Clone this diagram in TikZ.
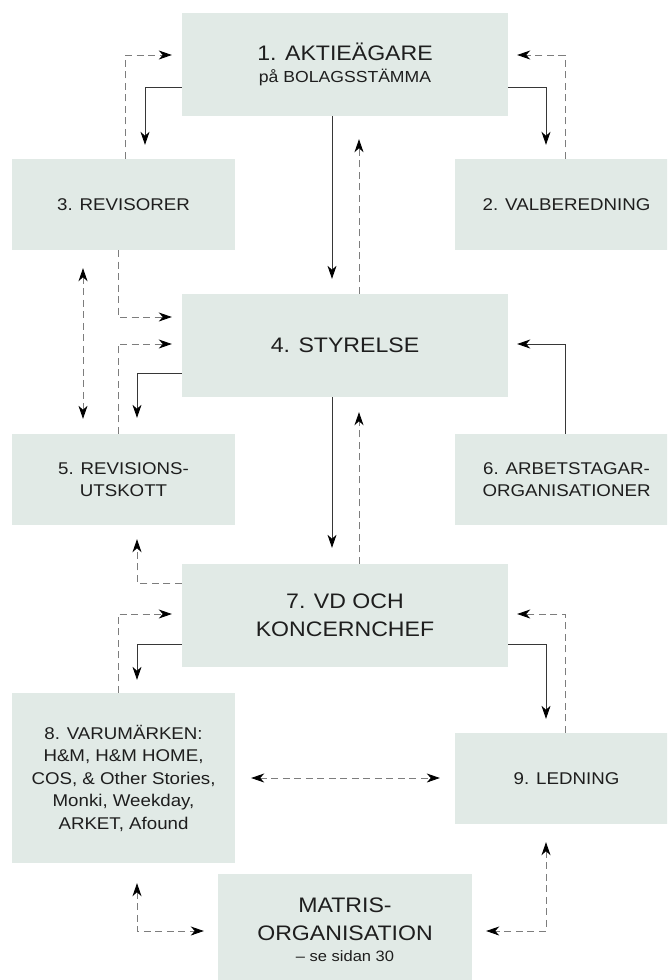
\documentclass[tikz,border=0pt]{standalone}
\usepackage{fontspec}
\setmainfont{Liberation Sans}[FakeStretch=1.1]
\usetikzlibrary{arrows.meta,calc}

\definecolor{boxgreen}{RGB}{225,234,230}
\definecolor{textgray}{RGB}{30,30,30}
\definecolor{dashgray}{RGB}{125,125,125}
\definecolor{linegray}{RGB}{55,55,55}

\begin{document}
\begin{tikzpicture}[x=1pt, y=-1pt,
    box/.style={fill=boxgreen, text=textgray, inner sep=0pt, align=center,
      minimum width=223pt, minimum height=91pt,
      font=\fontsize{17}{22.5}\selectfont},
    midbox/.style={box, minimum width=326pt, minimum height=103pt,
      font=\fontsize{21}{28}\selectfont},
    solidarrow/.style={draw=linegray, line width=0.8pt,
      -{Stealth[length=13pt, width=9pt, inset=4pt, black]}},
    dasharrow/.style={solidarrow, draw=dashgray, dash pattern=on 7pt off 4.5pt},
    bothdash/.style={dasharrow,
      {Stealth[length=13pt, width=9pt, inset=4pt, black]}-{Stealth[length=13pt, width=9pt, inset=4pt, black]}}]

    \useasboundingbox (0, 0) rectangle (667, 980);
    \clip (0, 0) rectangle (667, 980);

    % owners and the two bodies beside them
    \node [midbox] (aktie) at (345, 64.5) {1. AKTIEÄGARE\\[-6pt]
      {\fontsize{16}{20}\selectfont på BOLAGSSTÄMMA}};
    \node [box] (revis) at (123.5, 204.5) {3. REVISORER};
    \node [box] (valb)  at (566.5, 204.5) {2. VALBEREDNING};

    % board
    \node [midbox] (styr) at (345, 345.5) {4. STYRELSE};
    \node [box] (revut) at (123.5, 479.5) {5. REVISIONS-\\UTSKOTT};
    \node [box] (arbet) at (566.5, 479.5) {6. ARBETSTAGAR-\\ORGANISATIONER};

    % management
    \node [midbox] (vd) at (345, 615.5) {7. VD OCH\\KONCERNCHEF};
    \node [box, minimum height=170pt] (varum) at (123.5, 778)
      {8. VARUMÄRKEN:\\H\&M, H\&M HOME,\\COS, \& Other Stories,\\Monki, Weekday,\\ARKET, Afound};
    \node [box] (ledn) at (566.5, 778.5) {9. LEDNING};
    \node [midbox, minimum width=254pt, minimum height=112pt] (matris) at (345, 930)
      {MATRIS-\\ORGANISATION\\[-7pt]{\fontsize{15}{18}\selectfont -- se sidan 30}};

    % level 1
    \draw [solidarrow, shorten >=14pt] ([yshift=-22.5pt]aktie.west) -| ([xshift=21.5pt]revis.north);
    \draw [dasharrow, shorten >=10pt] ([xshift=2pt]revis.north) |- ([yshift=9.5pt]aktie.west);
    \draw [solidarrow, shorten >=14pt] ([yshift=-22.5pt]aktie.east) -| ([xshift=-20.5pt]valb.north);
    \draw [dasharrow, shorten >=9pt] ([xshift=-1.5pt]valb.north) |- ([yshift=9.5pt]aktie.east);
    \draw [solidarrow, shorten >=15pt] ([xshift=-13pt]aktie.south) -- ([xshift=-13pt]styr.north);
    \draw [dasharrow, shorten >=23pt] ([xshift=14pt]styr.north) -- ([xshift=14pt]aktie.south);

    % level 2
    \draw [dasharrow, shorten >=10pt] ([xshift=-5.5pt]revis.south) |- ([yshift=28.5pt]styr.west);
    \draw [dasharrow, shorten >=10pt] ([xshift=-5.5pt]revut.north) |- ([yshift=1.5pt]styr.west);
    \draw [solidarrow, shorten >=16pt] ([yshift=-27.5pt]styr.west) -| ([xshift=13.5pt]revut.north);
    \draw [bothdash, shorten <=18pt, shorten >=15pt] ([xshift=-40.5pt]revis.south) -- ([xshift=-40.5pt]revut.north);
    \draw [solidarrow, shorten >=9pt] ([xshift=-1.5pt]arbet.north) |- ([yshift=1.5pt]styr.east);
    \draw [solidarrow, shorten >=16pt] ([xshift=-13pt]styr.south) -- ([xshift=-13pt]vd.north);
    \draw [dasharrow, shorten >=15pt] ([xshift=14pt]vd.north) -- ([xshift=14pt]styr.south);

    % level 3
    \draw [dasharrow, shorten >=14pt] ([yshift=32.5pt]vd.west) -| ([xshift=13.5pt]revut.south);
    \draw [dasharrow, shorten >=10pt] ([xshift=-5.5pt]varum.north) |- ([yshift=1.5pt]vd.west);
    \draw [solidarrow, shorten >=13pt] ([yshift=-28.5pt]vd.west) -| ([xshift=13.5pt]varum.north);
    \draw [solidarrow, shorten >=14pt] ([yshift=-28.5pt]vd.east) -| ([xshift=-20.5pt]ledn.north);
    \draw [dasharrow, shorten >=9pt] ([xshift=-1.5pt]ledn.north) |- ([yshift=1.5pt]vd.east);
    \draw [bothdash, shorten <=16pt, shorten >=15pt] (varum.east) -- (varum.east -| ledn.west);

    % matrix
    \draw [bothdash, shorten <=20pt, shorten >=14pt] ([xshift=13.5pt]varum.south) |- ([yshift=-1pt]matris.west);
    \draw [bothdash, shorten <=18pt, shorten >=14pt] ([xshift=-20.5pt]ledn.south) |- ([yshift=-1pt]matris.east);
\end{tikzpicture}
\end{document}
